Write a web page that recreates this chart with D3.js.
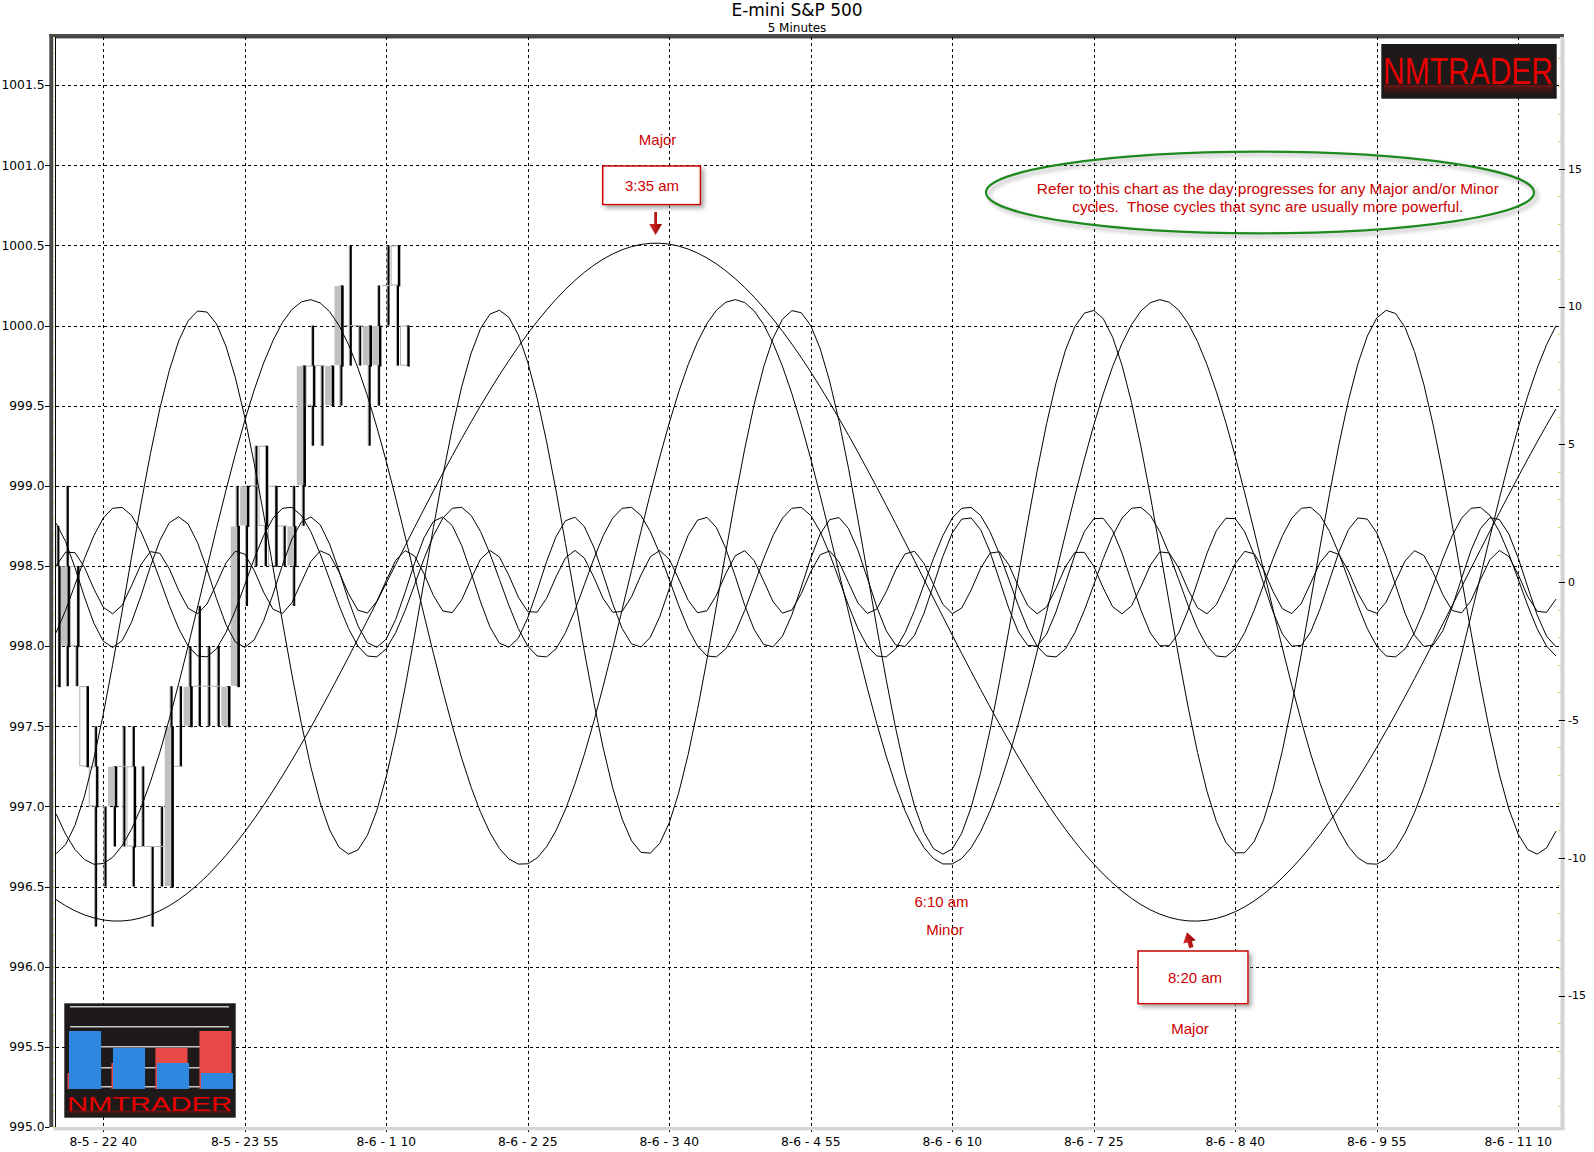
<html>
<head>
<title>E-mini S&amp;P 500</title>
<style>
    body{ margin:0; background:#fff; }
    svg{ display:block; font-family:"DejaVu Sans", Verdana, sans-serif; }
    .grid line{ stroke:#000; stroke-width:1; stroke-dasharray:3,3; shape-rendering:crispEdges; }
    .cycle{ fill:none; stroke:#000; stroke-width:1; }
    .note{ font-family:"Liberation Sans", Arial, sans-serif; fill:#cc0000; font-size:15px; text-anchor:middle; white-space:pre; }
</style>
</head>
<body>
<script src="https://d3js.org/d3.v7.min.js"></script>
<script>
var width = 1594, height = 1152;

// 5 minute bars from 8-5 22:15
var barOpen  = [998.5, 998.0, 998.5, 997.75, 997.25, 997.0, 997.0, 997.25, 997.25, 996.75, 996.75, 996.75, 996.5, 997.25, 997.5, 997.75, 997.75, 997.75, 997.5, 997.75,
                998.75, 999.0, 999.25, 999.0, 998.75, 998.5, 999.0, 999.75, 999.75, 999.5, 999.75, 1000.0, 1000.0, 999.75, 999.75, 1000.25, 1000.5, 1000.0];
var barHigh  = [998.75, 999.0, 998.5, 997.75, 997.5, 997.0, 997.25, 997.5, 997.5, 997.25, 996.75, 997.0, 997.75, 997.75, 998.0, 998.25, 998.0, 998.0, 997.75, 999.0,
                999.0, 999.25, 999.25, 999.0, 998.75, 999.0, 999.75, 1000.0, 999.75, 999.75, 1000.25, 1000.5, 1000.0, 1000.0, 1000.25, 1000.5, 1000.5, 1000.0];
var barLow   = [997.75, 997.75, 997.75, 997.25, 996.25, 996.5, 996.75, 996.75, 996.5, 996.75, 996.25, 996.5, 996.5, 997.25, 997.5, 997.5, 997.5, 997.5, 997.5, 997.75,
                998.25, 998.5, 998.5, 998.5, 998.5, 998.25, 998.75, 999.25, 999.25, 999.5, 999.5, 999.75, 999.75, 999.25, 999.5, 1000.0, 999.75, 999.75];
var barClose = [997.75, 998.5, 998.0, 997.25, 997.0, 997.0, 997.25, 997.25, 996.75, 996.75, 996.75, 996.75, 997.5, 997.25, 997.75, 997.75, 997.75, 997.75, 997.75, 998.75,
                999.0, 999.0, 998.75, 998.5, 998.75, 998.75, 999.75, 999.5, 999.75, 999.75, 1000.25, 1000.0, 1000.0, 1000.0, 1000.0, 1000.25, 1000.25, 999.75];

// cycle projections (right scale): period in bars, amplitude, bar of a crest
var cyclePeriod = [114.2, 45.07, 31.45, 18.0, 13.94, 8.92];
var cycleAmp    = [12.3, 10.25, 9.87, 2.74, 2.37, 1.15];
var cyclePeak   = [63.6, 26.9, 15.4, 6.6, 12.95, 1.47];
var barCount = 160;

var priceTicks = [995.0, 995.5, 996.0, 996.5, 997.0, 997.5, 998.0, 998.5, 999.0, 999.5, 1000.0, 1000.5, 1001.0, 1001.5];
var cycleTicks = [-15, -10, -5, 0, 5, 10, 15];
var timeTickBars = [5, 20, 35, 50, 65, 80, 95, 110, 125, 140, 155];
var timeLabels = ["8-5 - 22 40", "8-5 - 23 55", "8-6 - 1 10", "8-6 - 2 25", "8-6 - 3 40", "8-6 - 4 55",
                  "8-6 - 6 10", "8-6 - 7 25", "8-6 - 8 40", "8-6 - 9 55", "8-6 - 11 10"];

// logo bars
var logoBlue = [58, 41, 26, 16];
var logoRed  = [16, 26, 41, 58];

var L = 56, R = 1560, T = 37, B = 1127;

var svg = d3.select("body").append("svg")
            .attr("width", width)
            .attr("height", height);

var defs = svg.append("defs");
defs.append("clipPath").attr("id", "plotClip")
    .append("rect").attr("x", L).attr("y", T + 1).attr("width", R - L).attr("height", B - T - 1);
var sh = defs.append("filter").attr("id", "shadow").attr("x", "-10%").attr("y", "-30%").attr("width", "120%").attr("height", "160%");
sh.append("feDropShadow").attr("dx", 3).attr("dy", 3).attr("stdDeviation", 2)
  .attr("flood-color", "#777").attr("flood-opacity", 0.6);
var refl = defs.append("linearGradient").attr("id", "refl").attr("x1", 0).attr("y1", 0).attr("x2", 0).attr("y2", 1);
refl.append("stop").attr("offset", "0%").attr("stop-color", "#901010").attr("stop-opacity", 0.75);
refl.append("stop").attr("offset", "100%").attr("stop-color", "#1e1a1a").attr("stop-opacity", 0);
var arrowGrad = defs.append("linearGradient").attr("id", "arrowGrad").attr("x1", 0).attr("y1", 0).attr("x2", 1).attr("y2", 0);
arrowGrad.append("stop").attr("offset", "0%").attr("stop-color", "#e03030");
arrowGrad.append("stop").attr("offset", "100%").attr("stop-color", "#900000");

var x = d3.scaleLinear().domain([0, 159]).range([56.1, 1556]);
var y = d3.scaleLinear().domain([995, 1001.8]).range([B, T]);
var y2 = d3.scaleLinear().domain([-19.77, 19.78]).range([B, T]);

// title
svg.append("text").attr("x", 797).attr("y", 16).attr("text-anchor", "middle")
   .style("font-size", "17px").text("E-mini S&P 500");
svg.append("text").attr("x", 797).attr("y", 31.5).attr("text-anchor", "middle")
   .style("font-size", "12px").text("5 Minutes");

// grid
var grid = svg.append("g").attr("class", "grid");
grid.selectAll(".h").data(priceTicks).enter().append("line")
    .attr("x1", L).attr("x2", R)
    .attr("y1", function(d){ return Math.round(y(d)) + 0.5; })
    .attr("y2", function(d){ return Math.round(y(d)) + 0.5; });
grid.selectAll(".v").data(timeTickBars).enter().append("line")
    .attr("x1", function(d){ return Math.round(x(d)) + 0.5; })
    .attr("x2", function(d){ return Math.round(x(d)) + 0.5; })
    .attr("y1", T).attr("y2", B + 8);

// price bars
var bars = svg.append("g").attr("clip-path", "url(#plotClip)");
for (var i = 0; i < barOpen.length; i++) {
    var cx = x(i);
    var yh = y(barHigh[i]), yl = y(barLow[i]);
    bars.append("rect").attr("x", cx + 0.3).attr("y", yh).attr("width", 1).attr("height", yl - yh).attr("fill", "#a8a8a8");
    bars.append("rect").attr("x", cx + 1.3).attr("y", yh).attr("width", 2).attr("height", yl - yh).attr("fill", "#000");
    var bodyTop = y(Math.max(barOpen[i], barClose[i])), bodyBot = y(Math.min(barOpen[i], barClose[i]));
    if (barClose[i] == barOpen[i]) {
        bars.append("rect").attr("x", cx - 4.5).attr("y", bodyTop - 0.5).attr("width", 9).attr("height", 1).attr("fill", "#b0b0b0");
        continue;
    }
    var up = barClose[i] > barOpen[i];
    bars.append("rect").attr("x", cx - 4.6).attr("y", bodyTop + 0.5).attr("width", 6.8).attr("height", bodyBot - bodyTop - 1)
        .attr("fill", up ? "#c0c0c0" : "#fff")
        .attr("stroke", up ? "none" : "#b0b0b0").attr("stroke-width", 1);
    bars.append("rect").attr("x", cx + 2.3).attr("y", bodyTop).attr("width", 2.3).attr("height", bodyBot - bodyTop + 1).attr("fill", "#000");
}

// cycles
var line = d3.line()
    .x(function(d){ return x(d[0]); })
    .y(function(d){ return y2(d[1]); });
var cyc = svg.append("g").attr("clip-path", "url(#plotClip)");
for (var c = 0; c < cyclePeriod.length; c++) {
    var pts = d3.range(barCount).map(function(j){
        return [j, cycleAmp[c] * Math.cos(2 * Math.PI * (j - cyclePeak[c]) / cyclePeriod[c])];
    });
    cyc.append("path").attr("class", "cycle").attr("d", line(pts));
}

// frame
svg.append("rect").attr("x", 49.3).attr("y", 34).attr("width", 4).attr("height", B - 34).attr("fill", "#4a4a4a");
svg.append("rect").attr("x", 49.3).attr("y", 34).attr("width", R + 4 - 49.3).attr("height", 3.3).attr("fill", "#4a4a4a");
svg.append("line").attr("x1", 55.5).attr("x2", 55.5).attr("y1", T).attr("y2", B).attr("stroke", "#000");
svg.append("line").attr("x1", 55).attr("x2", R).attr("y1", 37.8).attr("y2", 37.8).attr("stroke", "#000");
svg.append("rect").attr("x", R + 0.5).attr("y", T).attr("width", 4).attr("height", B - T + 3).attr("fill", "#d4d4d4");
svg.append("rect").attr("x", 53.3).attr("y", B).attr("width", R + 4.5 - 53.3).attr("height", 3.3).attr("fill", "#d4d4d4");

// left axis
var minorPrices = d3.range(995.0, 1001.85, 0.1);
svg.append("g").selectAll("line").data(minorPrices).enter().append("line")
   .attr("x1", 53).attr("x2", 55)
   .attr("y1", function(d){ return Math.round(y(d)) + 0.5; })
   .attr("y2", function(d){ return Math.round(y(d)) + 0.5; })
   .attr("stroke", "#d8d070");
var la = svg.append("g");
la.selectAll("line").data(priceTicks).enter().append("line")
  .attr("x1", 45).attr("x2", 49.5)
  .attr("y1", function(d){ return Math.round(y(d)) + 0.5; })
  .attr("y2", function(d){ return Math.round(y(d)) + 0.5; })
  .attr("stroke", "#000");
la.selectAll("text").data(priceTicks).enter().append("text")
  .attr("x", 44.5).attr("y", function(d){ return y(d); }).attr("dy", "0.35em")
  .attr("text-anchor", "end").style("font-size", "12.3px")
  .text(function(d){ return d.toFixed(1); });

// right axis
var ra = svg.append("g");
ra.selectAll(".mn").data(d3.range(-19, 20)).enter().append("line")
  .attr("x1", R - 2).attr("x2", R + 1)
  .attr("y1", function(d){ return Math.round(y2(d)) + 0.5; })
  .attr("y2", function(d){ return Math.round(y2(d)) + 0.5; })
  .attr("stroke", "#d8d070");
ra.selectAll(".mj").data(cycleTicks).enter().append("line")
  .attr("x1", R - 1).attr("x2", R + 5)
  .attr("y1", function(d){ return Math.round(y2(d)) + 0.5; })
  .attr("y2", function(d){ return Math.round(y2(d)) + 0.5; })
  .attr("stroke", "#000");
ra.selectAll("text").data(cycleTicks).enter().append("text")
  .attr("x", R + 8).attr("y", function(d){ return y2(d); }).attr("dy", "0.35em")
  .style("font-size", "11px")
  .text(function(d){ return d; });

// bottom axis
svg.append("g").selectAll("text").data(timeTickBars).enter().append("text")
   .attr("x", function(d){ return x(d); }).attr("y", 1146)
   .attr("text-anchor", "middle").style("font-size", "12.3px")
   .text(function(d, k){ return timeLabels[k]; });

// notes
svg.append("text").attr("class", "note").attr("x", 657.6).attr("y", 144.5).text("Major");
svg.append("rect").attr("x", 602.7).attr("y", 166).attr("width", 97.7).attr("height", 38.6)
   .attr("fill", "#fff").attr("stroke", "#cc0000").attr("stroke-width", 1.5).attr("filter", "url(#shadow)");
svg.append("text").attr("class", "note").attr("x", 652).attr("y", 191).text("3:35 am");
svg.append("path").attr("d", "M654.2,212 L657,212 L657,224 L662,224 L655.6,235 L649.2,224 L654.2,224 Z")
   .attr("fill", "url(#arrowGrad)");

svg.append("text").attr("class", "note").attr("x", 941.5).attr("y", 907).text("6:10 am");
svg.append("text").attr("class", "note").attr("x", 945).attr("y", 934.5).text("Minor");

svg.append("path").attr("d", "M1189,932 L1195.5,942 L1191.5,942 L1191.5,948 L1187,948 L1187,942 L1182.5,942 Z")
   .attr("transform", "rotate(-15,1189,940)")
   .attr("fill", "url(#arrowGrad)");
svg.append("rect").attr("x", 1138).attr("y", 951).attr("width", 110).attr("height", 52.7)
   .attr("fill", "#fff").attr("stroke", "#cc0000").attr("stroke-width", 1.5).attr("filter", "url(#shadow)");
svg.append("text").attr("class", "note").attr("x", 1195).attr("y", 982.5).text("8:20 am");
svg.append("text").attr("class", "note").attr("x", 1190).attr("y", 1034).text("Major");

// comment bubble
svg.append("ellipse").attr("cx", 1260).attr("cy", 192.5).attr("rx", 274).attr("ry", 40.8)
   .attr("fill", "none").attr("stroke", "#1f8a1f").attr("stroke-width", 2.2).attr("filter", "url(#shadow)");
svg.append("text").attr("class", "note").attr("x", 1267.8).attr("y", 193.5)
   .attr("textLength", 462).attr("lengthAdjust", "spacingAndGlyphs")
   .text("Refer to this chart as the day progresses for any Major and/or Minor");
svg.append("text").attr("class", "note").attr("x", 1267.8).attr("y", 211.8)
   .attr("textLength", 391).attr("lengthAdjust", "spacingAndGlyphs")
   .text("cycles.  Those cycles that sync are usually more powerful.");

// top-right logo
var lg = svg.append("g");
lg.append("rect").attr("x", 1381.3).attr("y", 44).attr("width", 175.4).attr("height", 54.7).attr("fill", "#1e1a1a");
lg.append("rect").attr("x", 1384).attr("y", 85).attr("width", 169).attr("height", 12).attr("fill", "url(#refl)");
lg.append("text").attr("x", 1383).attr("y", 84).attr("textLength", 170).attr("lengthAdjust", "spacingAndGlyphs")
  .style("font-family", "'Liberation Sans Narrow','Liberation Sans',Arial,sans-serif").style("font-size", "36px")
  .attr("fill", "#e60000").text("NMTRADER");

// bottom-left logo
var bl = svg.append("g");
bl.append("rect").attr("x", 64.3).attr("y", 1003.3).attr("width", 171.4).attr("height", 114.4).attr("fill", "#1e1a1a");
var lgx = d3.scaleBand().domain(d3.range(4)).range([69, 233]).paddingInner(0.27);
var lgy = d3.scaleLinear().domain([0, 60]).range([1089, 1029]);
bl.selectAll(".gl").data([0, 20, 40, 61, 80]).enter().append("line")
  .attr("x1", 70).attr("x2", 229)
  .attr("y1", function(d){ return 1006.7 + d; }).attr("y2", function(d){ return 1006.7 + d; })
  .attr("stroke", "#c8c8c8").attr("stroke-width", 1.5);
bl.selectAll(".rb").data(logoRed).enter().append("rect")
  .attr("x", function(d, k){ return lgx(k) - 1.5; }).attr("width", lgx.bandwidth())
  .attr("y", function(d){ return lgy(d); }).attr("height", function(d){ return 1089 - lgy(d); })
  .attr("fill", "#e84848");
bl.selectAll(".bb").data(logoBlue).enter().append("rect")
  .attr("x", function(d, k){ return lgx(k); }).attr("width", lgx.bandwidth())
  .attr("y", function(d){ return lgy(d); }).attr("height", function(d){ return 1089 - lgy(d); })
  .attr("fill", "#2e88e0");
bl.append("rect").attr("x", 68).attr("y", 1110.5).attr("width", 163).attr("height", 6).attr("fill", "url(#refl)");
bl.append("text").attr("x", 67).attr("y", 1110.5).attr("textLength", 165).attr("lengthAdjust", "spacingAndGlyphs")
  .style("font-size", "20px").style("font-family", "'Liberation Sans',Arial,sans-serif")
  .attr("fill", "#e60000").text("NMTRADER");
</script>
</body>
</html>
